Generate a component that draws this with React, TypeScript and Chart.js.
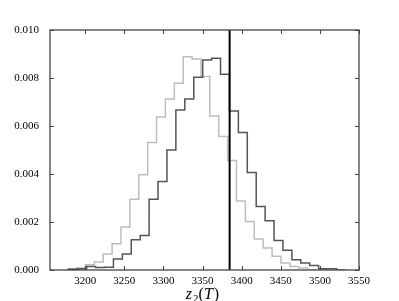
import React, { useEffect, useRef } from "react";
import { Chart, registerables } from "chart.js";

Chart.register(...registerables);

// Dark histogram (bin edges and densities)
const darkEdges = [
  3179.1, 3190.5, 3201.9, 3213.3, 3224.7, 3236.1, 3247.5, 3258.9, 3270.3, 3281.7,
  3293.1, 3304.5, 3315.9, 3327.3, 3338.8, 3350.2, 3361.6, 3373.0, 3384.4, 3395.8,
  3407.2, 3418.6, 3430.0, 3441.4, 3452.8, 3464.2, 3475.6, 3487.0, 3498.4, 3509.8,
  3521.2, 3532.7,
];
const darkValues = [
  0.00002, 0.00003, 0.00005, 0.00015, 0.0001, 0.00011, 0.00046, 0.00067, 0.00126, 0.00144,
  0.00295, 0.00369, 0.005, 0.00667, 0.00713, 0.00803, 0.00875, 0.00882, 0.00816, 0.00663,
  0.00573, 0.00406, 0.00265, 0.00205, 0.00123, 0.00082, 0.00043, 0.00029, 0.00019, 0.00005,
  0.00005,
];

// Light histogram
const lightEdges = [
  3177.6, 3188.9, 3200.3, 3211.7, 3223.0, 3234.4, 3245.7, 3257.1, 3268.5, 3279.8,
  3291.2, 3302.5, 3313.9, 3325.3, 3336.6, 3348.0, 3359.3, 3370.7, 3382.1, 3393.4,
  3404.8, 3416.1, 3427.5, 3438.9, 3450.2, 3461.6, 3472.9, 3484.3, 3495.7,
];
const lightValues = [
  0.00003, 0.00005, 0.00008, 0.00022, 0.00033, 0.00067, 0.00109, 0.00179, 0.00295, 0.00397,
  0.00531, 0.00637, 0.00712, 0.00778, 0.00889, 0.00879, 0.00806, 0.00642, 0.00556, 0.00456,
  0.00288, 0.00202, 0.00129, 0.00092, 0.00057, 0.00029, 0.00015, 0.00008,
];

const markerX = 3384.6;

const xTicks = [3200, 3250, 3300, 3350, 3400, 3450, 3500, 3550];
const yTicks = [0, 0.002, 0.004, 0.006, 0.008, 0.01];
const xRange = [3155, 3550];
const yRange = [0, 0.01];

// x-axis label pieces: [text, italic, subscript]
const xLabelParts: [string, boolean, boolean][] = [
  ["z", true, false],
  ["2", false, true],
  ["(", false, false],
  ["T", true, false],
  [")", false, false],
];

function stepPoints(edges: number[], values: number[]) {
  const pts: { x: number; y: number }[] = [{ x: edges[0], y: 0 }];
  values.forEach((v, i) => pts.push({ x: edges[i], y: v }));
  pts.push({ x: edges[edges.length - 1], y: 0 });
  return pts;
}

const frameColor = "#444";
const serif = "'Liberation Serif', 'DejaVu Serif', serif";

const framePlugin = {
  id: "frameTicks",
  afterDraw(chart: any) {
    const { ctx, chartArea } = chart;
    const { left, right, top, bottom } = chartArea;
    const x = chart.scales.x;
    const y = chart.scales.y;
    const len = 4;
    ctx.save();
    ctx.strokeStyle = frameColor;
    ctx.lineWidth = 1;
    ctx.beginPath();
    xTicks.forEach((v) => {
      const px = Math.round(x.getPixelForValue(v)) + 0.5;
      ctx.moveTo(px, bottom);
      ctx.lineTo(px, bottom - len);
      ctx.moveTo(px, top);
      ctx.lineTo(px, top + len);
    });
    yTicks.forEach((v) => {
      const py = Math.round(y.getPixelForValue(v)) + 0.5;
      ctx.moveTo(left, py);
      ctx.lineTo(left + len, py);
      ctx.moveTo(right, py);
      ctx.lineTo(right - len, py);
    });
    ctx.stroke();
    ctx.lineWidth = 1.3;
    ctx.strokeRect(left, top, right - left, bottom - top);

    // x-axis label with math styling
    const size = 16;
    const subSize = 11;
    const fontFor = (italic: boolean, sub: boolean) =>
      `${italic ? "italic " : ""}${sub ? subSize : size}px ${serif}`;
    let total = 0;
    const widths = xLabelParts.map(([t, it, sub]) => {
      ctx.font = fontFor(it, sub);
      const w = ctx.measureText(t).width + (it ? 1 : 0);
      total += w;
      return w;
    });
    let cx = (left + right) / 2 - total / 2 - 2;
    const baseY = 299;
    ctx.fillStyle = "#000";
    ctx.textBaseline = "alphabetic";
    ctx.textAlign = "left";
    xLabelParts.forEach(([t, it, sub], i) => {
      ctx.font = fontFor(it, sub);
      ctx.fillText(t, cx, sub ? baseY + 2.5 : baseY);
      cx += widths[i];
    });
    ctx.restore();
  },
};

export default function App() {
  const ref = useRef<HTMLCanvasElement | null>(null);
  useEffect(() => {
    document.body.style.margin = "0";
    if (!ref.current) return;
    const tickFont = { family: serif, size: 11 };
    const chart = new Chart(ref.current, {
      type: "line",
      data: {
        datasets: [
          {
            data: [
              { x: markerX, y: yRange[0] },
              { x: markerX, y: yRange[1] },
            ],
            borderColor: "#000",
            borderWidth: 2,
            pointRadius: 0,
            fill: false,
          },
          {
            data: stepPoints(darkEdges, darkValues),
            stepped: "after",
            borderColor: "#555",
            borderWidth: 1.5,
            pointRadius: 0,
            fill: false,
            borderJoinStyle: "miter",
          },
          {
            data: stepPoints(lightEdges, lightValues),
            stepped: "after",
            borderColor: "#bdbdbd",
            borderWidth: 1.5,
            pointRadius: 0,
            fill: false,
            borderJoinStyle: "miter",
          },
        ],
      } as any,
      options: {
        animation: false,
        responsive: false,
        parsing: false,
        layout: { padding: { top: 30, right: 40, left: 0, bottom: 0 } },
        plugins: { legend: { display: false }, tooltip: { enabled: false } },
        scales: {
          x: {
            type: "linear",
            min: xRange[0],
            max: xRange[1],
            grid: { display: false },
            border: { display: false },
            afterBuildTicks: (s: any) => {
              s.ticks = xTicks.map((v) => ({ value: v }));
            },
            afterFit: (s: any) => {
              s.height = 31;
            },
            ticks: {
              font: tickFont,
              color: "#000",
              padding: -3,
              maxRotation: 0,
              autoSkip: false,
              callback: (v: any) => String(v),
            },
          },
          y: {
            type: "linear",
            min: yRange[0],
            max: yRange[1],
            grid: { display: false },
            border: { display: false },
            afterBuildTicks: (s: any) => {
              s.ticks = yTicks.map((v) => ({ value: v }));
            },
            afterFit: (s: any) => {
              s.width = 50;
            },
            ticks: {
              font: tickFont,
              color: "#000",
              padding: 3,
              autoSkip: false,
              callback: (v: any) => Number(v).toFixed(3),
            },
          },
        },
      } as any,
      plugins: [framePlugin],
    });
    return () => chart.destroy();
  }, []);
  return <canvas ref={ref} width={399} height={301} style={{ display: "block" }} />;
}
